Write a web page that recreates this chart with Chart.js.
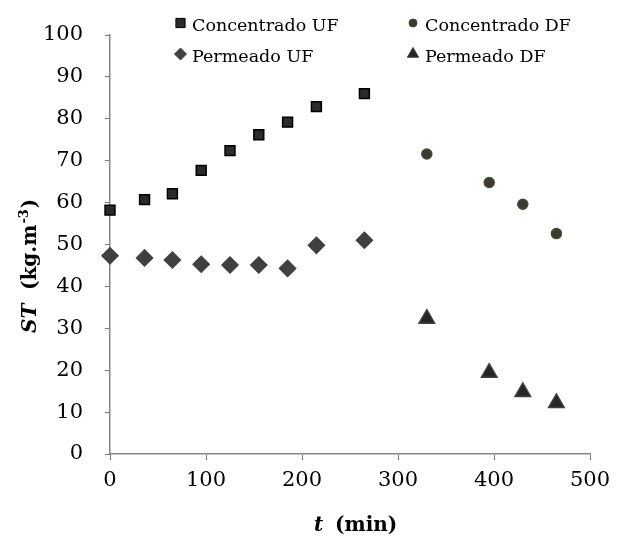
<!DOCTYPE html>
<html><head><meta charset="utf-8">
<script src="https://cdn.jsdelivr.net/npm/chart.js@4/dist/chart.umd.min.js"></script>
<style>html,body{margin:0;padding:0;background:#fff}#c{display:block}</style>
</head><body>
<canvas id="c" width="638" height="540"></canvas>
<script>
const seriesLabels = ['Concentrado UF', 'Concentrado DF', 'Permeado UF', 'Permeado DF'];
const concUF_t = [0, 36, 65, 95, 125, 155, 185, 215, 265];
const concUF_st = [58.2, 60.7, 62.1, 67.7, 72.4, 76.2, 79.2, 82.9, 86.0];
const concDF_t = [330, 395, 430, 465];
const concDF_st = [71.6, 64.8, 59.6, 52.6];
const permUF_t = [0, 36, 65, 95, 125, 155, 185, 215, 265];
const permUF_st = [47.3, 46.8, 46.3, 45.3, 45.1, 45.1, 44.3, 49.8, 51.0];
const permDF_t = [330, 395, 430, 465];
const permDF_st = [32.3, 19.4, 14.8, 12.2];
const xTicks = [0, 100, 200, 300, 400, 500];
const yTicks = [0, 10, 20, 30, 40, 50, 60, 70, 80, 90, 100];

const FONT = '"DejaVu Serif", "Liberation Serif", serif';
const pts = (xs, ys) => xs.map((x, i) => ({x, y: ys[i]}));

const styles = [
  {pointStyle: 'rect', radius: 7, bg: '#2b2b2b', border: '#000000', lr: 6.5},
  {pointStyle: 'circle', radius: 5, bg: '#3d3a2f', border: '#4a4638', lr: 4},
  {pointStyle: 'rectRot', radius: 8, bg: '#404040', border: '#404040', lr: 6},
  {pointStyle: 'triangle', radius: 9, bg: '#262626', border: '#404040', lr: 6.5}
];
const dataSets = [pts(concUF_t, concUF_st), pts(concDF_t, concDF_st), pts(permUF_t, permUF_st), pts(permDF_t, permDF_st)];

const legendPlugin = {
  id: 'customLegend',
  afterDraw(chart) {
    const ctx = chart.ctx;
    ctx.save();
    const pos = [[180.5, 23, 192, 30.5], [413, 23, 425, 30.5], [180.5, 54, 192, 61.5], [413, 54, 425, 61.5]];
    chart.data.datasets.forEach((ds, i) => {
      const [mx, my, tx, ty] = pos[i];
      const st = styles[i];
      ctx.fillStyle = st.bg;
      ctx.strokeStyle = st.border;
      ctx.lineWidth = 1;
      Chart.helpers.drawPoint(ctx, {pointStyle: st.pointStyle, radius: st.lr, borderWidth: 1}, mx, my);
      ctx.fillStyle = '#000';
      ctx.font = '17.5px ' + FONT;
      ctx.textBaseline = 'alphabetic';
      ctx.textAlign = 'left';
      ctx.fillText(ds.label, tx, ty);
    });
    ctx.restore();
  }
};

const titlesPlugin = {
  id: 'titles',
  afterDraw(chart) {
    const ctx = chart.ctx;
    ctx.save();
    ctx.fillStyle = '#000';
    ctx.textBaseline = 'alphabetic';
    ctx.textAlign = 'left';
    const it = 'italic bold 20px ' + FONT, bd = 'bold 20px ' + FONT, sp = 'bold 13px ' + FONT;
    // x title
    ctx.font = it; ctx.fillText('t', 314, 531);
    ctx.font = bd; ctx.fillText('(min)', 335, 531);
    // y title (rotated)
    ctx.translate(36, 333);
    ctx.rotate(-Math.PI / 2);
    ctx.font = it; ctx.fillText('ST', 0, 0);
    ctx.font = bd; ctx.fillText('(kg.m', 43, 0);
    const wm = ctx.measureText('(kg.m').width;
    ctx.font = sp; ctx.fillText('-3', 43 + wm + 1, -8);
    const ws = ctx.measureText('-3').width;
    ctx.font = bd; ctx.fillText(')', 43 + wm + ws + 2, 0);
    ctx.restore();
  }
};

new Chart(document.getElementById('c'), {
  type: 'scatter',
  data: {
    datasets: dataSets.map((d, i) => ({
      label: seriesLabels[i],
      data: d,
      pointStyle: styles[i].pointStyle,
      pointRadius: styles[i].radius,
      pointHoverRadius: styles[i].radius,
      backgroundColor: styles[i].bg,
      borderColor: styles[i].border,
      pointBorderWidth: 1.5,
      showLine: false,
      clip: false
    }))
  },
  options: {
    responsive: false,
    animation: false,
    devicePixelRatio: 1,
    layout: {padding: {left: 0, top: 35, right: 48, bottom: 0}},
    plugins: {legend: {display: false}, tooltip: {enabled: false}},
    scales: {
      x: {
        type: 'linear', min: 0, max: 500,
        afterBuildTicks: s => { s.ticks = xTicks.map(v => ({value: v})); },
        afterFit: s => { s.height = 86; },
        border: {display: true, color: '#868686', width: 1.5},
        grid: {display: true, drawOnChartArea: false, drawTicks: true, tickLength: 6, color: '#777777', lineWidth: 1},
        ticks: {color: '#000', font: {family: FONT, size: 21}, padding: 8, maxRotation: 0}
      },
      y: {
        type: 'linear', min: 0, max: 100,
        afterBuildTicks: s => { s.ticks = yTicks.map(v => ({value: v})); },
        afterFit: s => { s.width = 110; },
        border: {display: true, color: '#868686', width: 1.5},
        grid: {display: true, drawOnChartArea: false, drawTicks: true, tickLength: 5, color: '#777777', lineWidth: 1},
        ticks: {color: '#000', font: {family: FONT, size: 21}, padding: 22}
      }
    }
  },
  plugins: [legendPlugin, titlesPlugin]
});
</script>
</body></html>
